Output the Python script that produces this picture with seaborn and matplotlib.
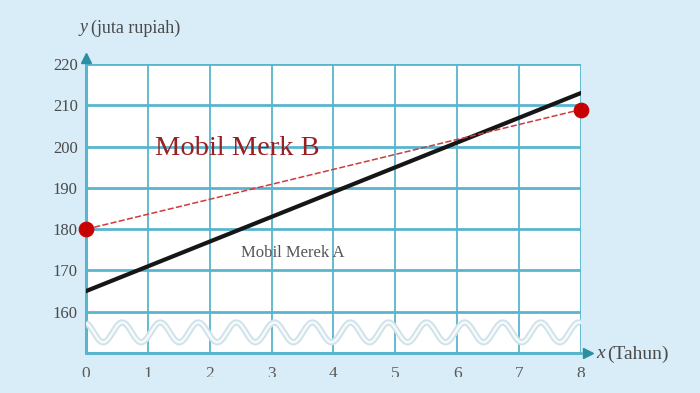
import numpy as np
import pandas as pd
import matplotlib
matplotlib.use("Agg")
import matplotlib.pyplot as plt
import matplotlib.transforms as mtransforms
import seaborn as sns

# ---- data ----
tahun = [0, 8]
harga_A = [165, 213]
harga_B = [180, 209]
y_ticks = [160, 170, 180, 190, 200, 210, 220]
x_ticks = [0, 1, 2, 3, 4, 5, 6, 7, 8]

sns.set_theme(style="white")
plt.rcParams["font.family"] = ["Liberation Serif", "DejaVu Serif"]

BG = "#d9edf8"
GRID = "#58b5cd"
TEXT = "#4a4a4a"

fig = plt.figure(figsize=(7, 3.93), dpi=100, facecolor=BG)
ax = fig.add_axes([0.1229, 0.1018, 0.707, 0.735])
ax.set_facecolor("white")
ax.set_xlim(0, 8)
ax.set_ylim(150, 220)

# grid
for yv in y_ticks:
    ax.axhline(yv, color=GRID, lw=2.0, zorder=1)
for xv in x_ticks[1:]:
    ax.axvline(xv, color=GRID, lw=1.3, zorder=1)
for s in ax.spines.values():
    s.set_visible(False)
ax.axhline(150, color=GRID, lw=2.2, zorder=1, clip_on=False)
ax.axvline(0, color=GRID, lw=2.2, zorder=1, clip_on=False)

# axis-break wave decoration
xw = np.linspace(0, 8, 800)
yw = 155 + 2.4 * np.cos(2 * np.pi * (xw + 0.03) / 0.615)
ax.plot(xw, yw, color="#cfe2e9", lw=4.5, zorder=2, solid_capstyle="butt")
ax.plot(xw, yw, color="#f6fafb", lw=1.8, zorder=2, solid_capstyle="butt")

df = pd.DataFrame({"tahun": tahun + tahun,
                   "harga": harga_A + harga_B,
                   "merk": ["A"] * len(tahun) + ["B"] * len(tahun)})

sns.lineplot(data=df[df.merk == "A"], x="tahun", y="harga", ax=ax,
             color="#161616", lw=3.0, zorder=4, legend=False)
sns.lineplot(data=df[df.merk == "B"], x="tahun", y="harga", ax=ax,
             color="#cf3b3b", lw=1.1, linestyle=(0, (4, 1.5)), zorder=5, legend=False)
sns.scatterplot(data=df[df.merk == "B"], x="tahun", y="harga", ax=ax,
                color="#c80000", s=110, edgecolor="#c80000", zorder=6,
                legend=False, clip_on=False)

# ticks
ax.set_yticks(y_ticks)
ax.set_yticklabels([str(v) for v in y_ticks], fontsize=12, color=TEXT)
ax.set_xticks(x_ticks)
ax.set_xticklabels([])
ax.tick_params(axis="y", length=0, pad=6)
ax.tick_params(axis="x", length=0)
ax.set_xlabel("")
ax.set_ylabel("")

# x tick labels: partly cut off at the bottom (as in the reference frame)
trans = mtransforms.blended_transform_factory(ax.transData, fig.transFigure)
clip = mtransforms.Bbox.from_extents(0, 393 - 377, 700, 393)
for xv in x_ticks:
    t = ax.text(xv, 1 - 374 / 393, str(xv), transform=trans, fontsize=12.5,
                color="#5a5a5a", ha="center", va="center", clip_on=True)
    t.set_clip_box(clip)

# arrows
ax.plot([0], [221.6], marker="^", color="#2a8fa3", ms=7, clip_on=False, zorder=7)
ax.plot([8.12], [150], marker=">", color="#2a8fa3", ms=7, clip_on=False, zorder=7)

# labels
fig.text(80 / 700, 1 - 28 / 393, "y", fontsize=13, style="italic", color=TEXT,
         ha="left", va="center")
fig.text(91 / 700, 1 - 28 / 393, "(juta rupiah)", fontsize=13, color=TEXT,
         ha="left", va="center")
fig.text(596 / 700, 1 - 354 / 393, "x", fontsize=14, style="italic", color=TEXT,
         ha="left", va="center")
fig.text(607 / 700, 1 - 354 / 393, "(Tahun)", fontsize=14, color=TEXT,
         ha="left", va="center")

ax.text(1.11, 199.6, "Mobil Merk B", fontsize=20.5, color="#9a1f22",
        ha="left", va="center", zorder=8)
ax.text(2.5, 174.2, "Mobil Merek A", fontsize=12, color="#555555",
        ha="left", va="center", zorder=8)

fig.savefig("out.png", dpi=100, facecolor=BG)
